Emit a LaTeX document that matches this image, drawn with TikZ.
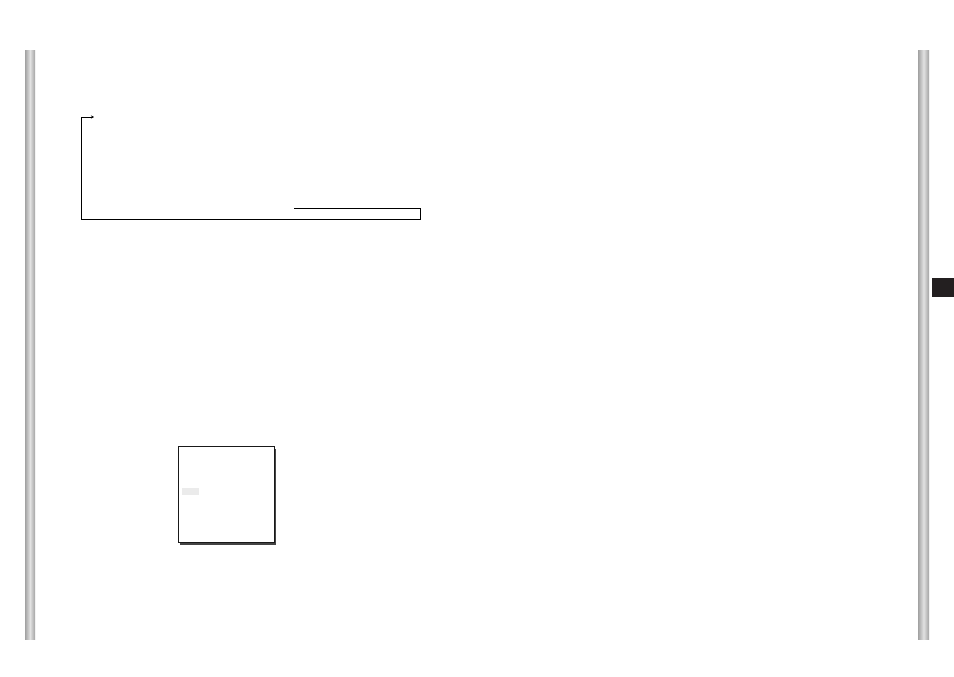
\documentclass[tikz,border=0pt]{standalone}
\usetikzlibrary{arrows.meta}
\definecolor{barmid}{HTML}{E2E2E2}
\definecolor{baredge}{HTML}{A2A2A2}
\definecolor{tabblack}{HTML}{231F20}
\definecolor{hilite}{HTML}{EBEBEB}
\definecolor{shadowgray}{HTML}{444444}
\tikzset{
  sidebar/.style={left color=baredge, right color=baredge, middle color=barmid, draw=none},
  bracketline/.style={draw=black, line width=0.9pt},
  screenbox/.style={draw=black!90, line width=1pt, fill=white},
}
\begin{document}
\begin{tikzpicture}[x=1pt,y=-1pt]
\useasboundingbox (0,0) rectangle (954,677);
\fill[white] (0,0) rectangle (954,677);
% side bars
\shade[sidebar] (25,51) rectangle (35,639);
\shade[sidebar] (918,51) rectangle (929,639);
% black tab
\fill[tabblack] (932,278) rectangle (954,297);
% bracket
\coordinate (btip) at (94,117);
\coordinate (btl) at (81,117);
\coordinate (bbl) at (81,219);
\coordinate (bbr) at (420.5,219);
\coordinate (btr) at (420.5,208);
\coordinate (btop) at (294,208);
\draw[bracketline, -{Stealth[length=3pt,width=3pt]}] (bbl) -- (btl) -- (btip);
\draw[bracketline] (bbl) -- (bbr) -- (btr) -- (btop);
% screen box
\fill[shadowgray] (180,449) rectangle (276,545);
\node[screenbox, minimum width=96pt, minimum height=96pt, inner sep=0pt, anchor=north west] (screen) at (177.5,446.3) {};
\fill[hilite] (182,488) rectangle (199,495);
\end{tikzpicture}
\end{document}
